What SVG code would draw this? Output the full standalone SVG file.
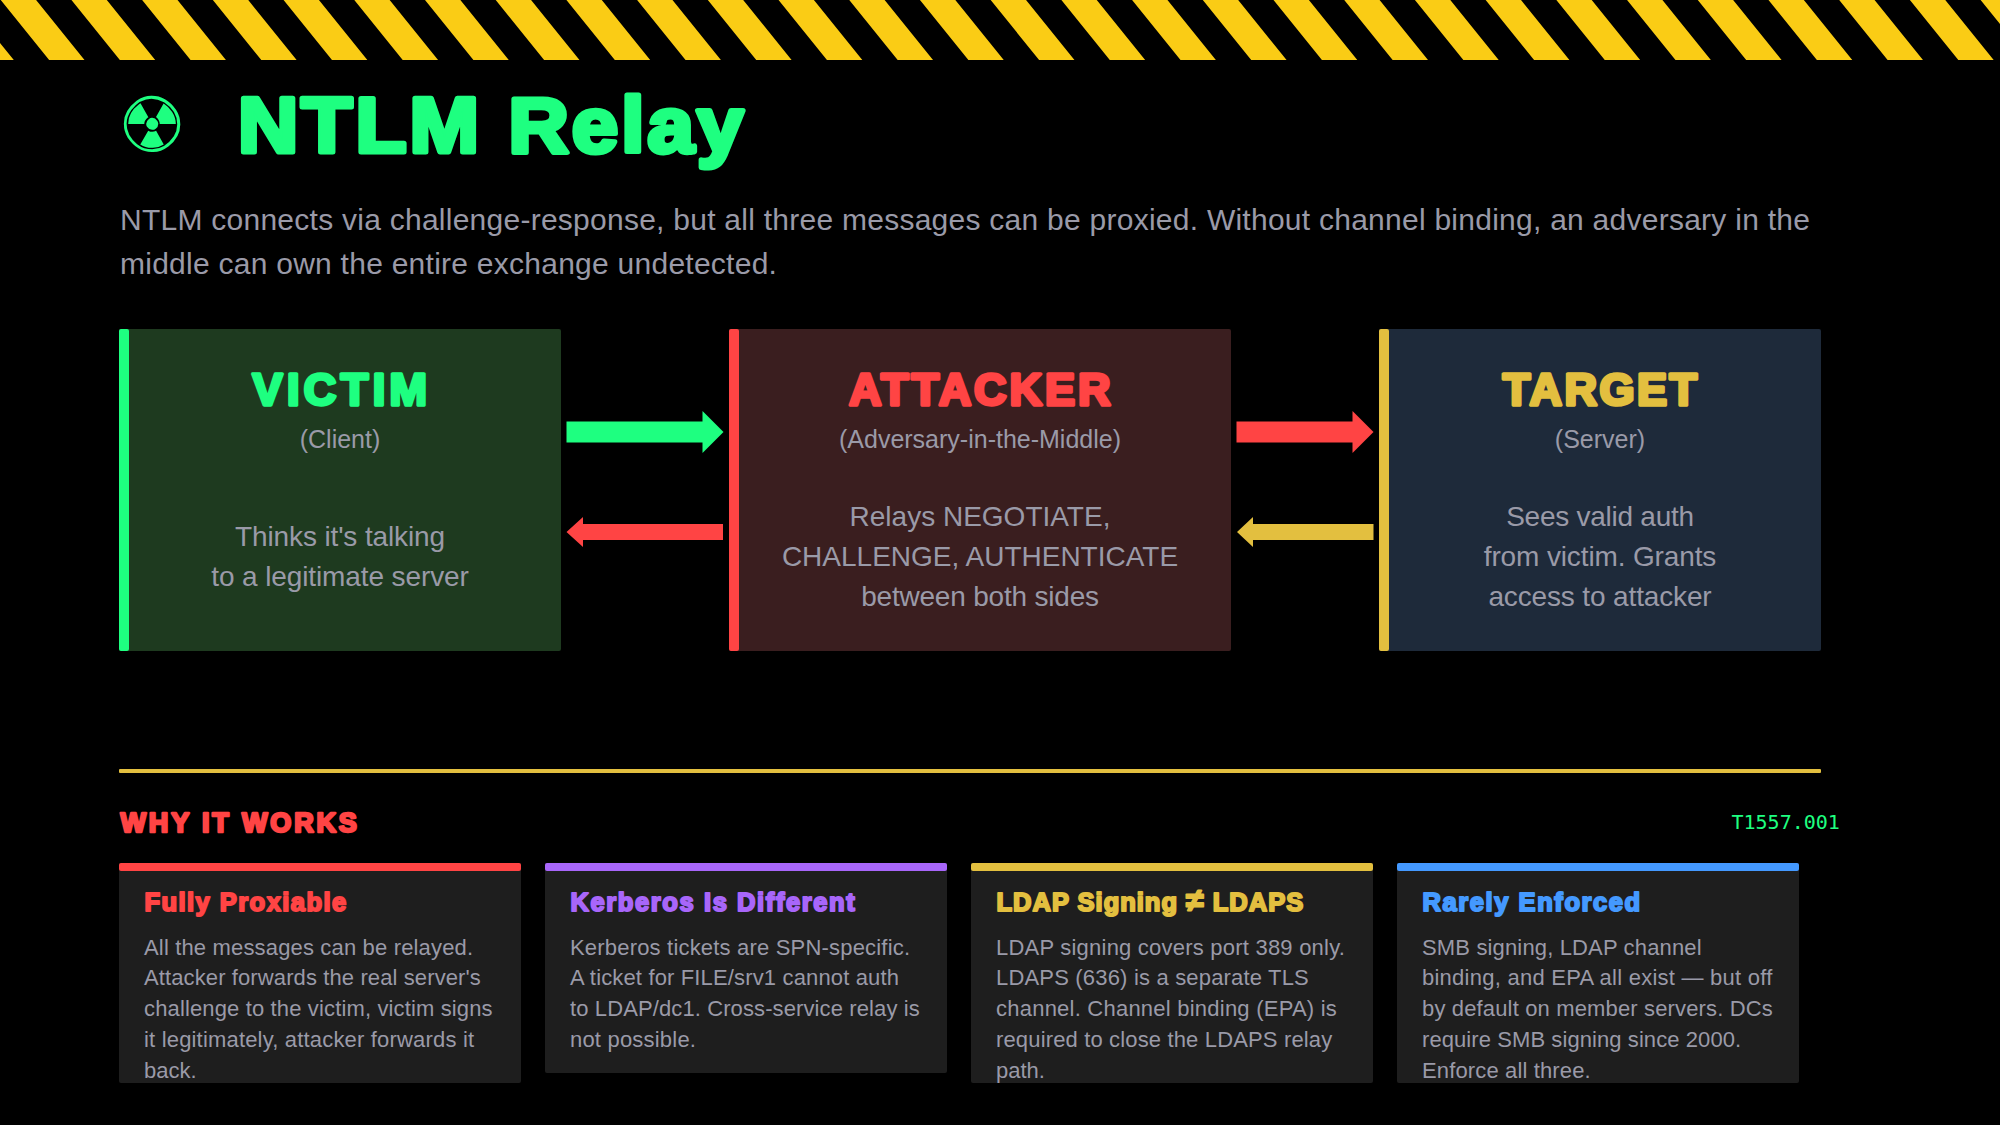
<svg xmlns="http://www.w3.org/2000/svg" width="2000" height="1125" viewBox="0 0 2000 1125">
<style>
text{font-family:"Liberation Sans",Arial,sans-serif}
.h{font-weight:700;stroke-linejoin:round;paint-order:stroke}
.title{font-size:78px;letter-spacing:2.9px;stroke-width:5px;fill:#1eff80;stroke:#1eff80}
.sub{font-size:30px;fill:#9a9aa8;letter-spacing:.255px}
.nm{font-size:45px;text-anchor:middle;stroke-width:3.5px}
.role{font-size:25px;fill:#9a9aa8;text-anchor:middle}
.body{font-size:28px;fill:#9a9aa8;text-anchor:middle}
.sec{font-size:27px;letter-spacing:2.85px;stroke-width:2.5px}
.ct{font-size:25.5px;stroke-width:2px}
.cb{font-size:22px;fill:#9a9aa8}
.g{fill:#1eff80;stroke:#1eff80}.r{fill:#ff4444;stroke:#ff4444}.y{fill:#e3bf3f;stroke:#e3bf3f}.p{fill:#a866fa;stroke:#a866fa}.b{fill:#4499ff;stroke:#4499ff}
.card{fill:#1e1e1e}
</style>
<defs>
<clipPath id="c1"><rect x="119" y="863" width="402" height="220"/></clipPath>
<clipPath id="c3"><rect x="971" y="863" width="402" height="220"/></clipPath>
<clipPath id="c4"><rect x="1397" y="863" width="402" height="220"/></clipPath>
</defs>
<rect width="2000" height="1125" fill="#000"/>
<line x1="-211.39" y1="30" x2="2300" y2="30" stroke="#facc15" stroke-width="60" stroke-dasharray="35.355 35.355" transform="skewX(38.9)"/>
<g id="header">
<text x="117.5" y="152" style="font-family:'DejaVu Sans',sans-serif;font-size:77px" fill="#1eff80">☢</text>
<text class="h title" transform="translate(238 152) scale(1.07 1)">NTLM Relay</text>
<text class="sub" x="120" y="230">NTLM connects via challenge-response, but all three messages can be proxied. Without channel binding, an adversary in the</text>
<text class="sub" x="120" y="274">middle can own the entire exchange undetected.</text>
</g>
<g id="victim">
<rect x="119" y="329" width="442" height="322" rx="2" fill="#1e3a1f"/>
<rect x="119" y="329" width="10" height="322" rx="2" fill="#1eff80"/>
<text class="h nm g" x="342" y="405" letter-spacing="4.4">VICTIM</text>
<text class="role" x="340" y="448">(Client)</text>
<text class="body" x="340" y="546" letter-spacing="-.13">Thinks it's talking</text>
<text class="body" x="340" y="586" letter-spacing="-.11">to a legitimate server</text>
</g>
<g id="attacker">
<rect x="729" y="329" width="502" height="322" rx="2" fill="#3a1e1f"/>
<rect x="729" y="329" width="10" height="322" rx="2" fill="#ff4444"/>
<text class="h nm r" x="981.2" y="405" letter-spacing="2.95">ATTACKER</text>
<text class="role" x="980" y="448">(Adversary-in-the-Middle)</text>
<text class="body" x="980" y="526">Relays NEGOTIATE,</text>
<text class="body" x="980" y="566">CHALLENGE, AUTHENTICATE</text>
<text class="body" x="980" y="606" letter-spacing="-.2">between both sides</text>
</g>
<g id="target">
<rect x="1379" y="329" width="442" height="322" rx="2" fill="#1e2a3a"/>
<rect x="1379" y="329" width="10" height="322" rx="2" fill="#e3bf3f"/>
<text class="h nm y" x="1601.2" y="405" letter-spacing="2.5">TARGET</text>
<text class="role" x="1600" y="448">(Server)</text>
<text class="body" x="1600" y="526" letter-spacing="-.25">Sees valid auth</text>
<text class="body" x="1600" y="566" letter-spacing="-.13">from victim. Grants</text>
<text class="body" x="1600" y="606" letter-spacing="-.14">access to attacker</text>
</g>
<g id="connectors">
<polygon points="566.5,421.5 702.5,421.5 702.5,411 723.5,432 702.5,453 702.5,442.5 566.5,442.5" fill="#1eff80"/>
<polygon points="723,524 583,524 583,517 566.5,532 583,547 583,540 723,540" fill="#ff4444"/>
<polygon points="1236.5,421.5 1352.5,421.5 1352.5,411 1373.5,432 1352.5,453 1352.5,442.5 1236.5,442.5" fill="#ff4444"/>
<polygon points="1373.5,524 1253,524 1253,517 1237,532 1253,547 1253,540 1373.5,540" fill="#e3bf3f"/>
</g>
<rect id="rule" x="119" y="769" width="1702" height="4" rx="1" fill="#e3bf3f"/>
<g id="section">
<text class="h sec r" x="120.5" y="831.5">WHY IT WORKS</text>
<text x="1731.5" y="829" style="font-family:'DejaVu Sans Mono',monospace;font-size:20px" fill="#1eff80">T1557.001</text>
</g>
<g id="card1">
<rect class="card" x="119" y="863" width="402" height="220" rx="2"/>
<rect x="119" y="863" width="402" height="8" rx="2" fill="#ff4444"/>
<text class="h ct r" x="144.5" y="911" letter-spacing="1.45">Fully Proxiable</text>
<g clip-path="url(#c1)">
<text class="cb" x="144" y="955" letter-spacing=".16">All the messages can be relayed.</text>
<text class="cb" x="144" y="985" letter-spacing=".11">Attacker forwards the real server's</text>
<text class="cb" x="144" y="1016" letter-spacing=".14">challenge to the victim, victim signs</text>
<text class="cb" x="144" y="1047" letter-spacing=".18">it legitimately, attacker forwards it</text>
<text class="cb" x="144" y="1078">back.</text>
</g>
</g>
<g id="card2">
<rect class="card" x="545" y="863" width="402" height="210" rx="2"/>
<rect x="545" y="863" width="402" height="8" rx="2" fill="#a866fa"/>
<text class="h ct p" x="570.5" y="911" letter-spacing="1.6">Kerberos Is Different</text>
<text class="cb" x="570" y="955" letter-spacing=".19">Kerberos tickets are SPN-specific.</text>
<text class="cb" x="570" y="985" letter-spacing=".15">A ticket for FILE/srv1 cannot auth</text>
<text class="cb" x="570" y="1016" letter-spacing=".11">to LDAP/dc1. Cross-service relay is</text>
<text class="cb" x="570" y="1047" letter-spacing=".2">not possible.</text>
</g>
<g id="card3">
<rect class="card" x="971" y="863" width="402" height="220" rx="2"/>
<rect x="971" y="863" width="402" height="8" rx="2" fill="#e3bf3f"/>
<text class="h ct y" x="996.5" y="911" letter-spacing="1">LDAP Signing <tspan style="font-size:32px">≠</tspan> LDAPS</text>
<g clip-path="url(#c3)">
<text class="cb" x="996" y="955" letter-spacing=".22">LDAP signing covers port 389 only.</text>
<text class="cb" x="996" y="985" letter-spacing=".18">LDAPS (636) is a separate TLS</text>
<text class="cb" x="996" y="1016" letter-spacing=".23">channel. Channel binding (EPA) is</text>
<text class="cb" x="996" y="1047" letter-spacing=".15">required to close the LDAPS relay</text>
<text class="cb" x="996" y="1078">path.</text>
</g>
</g>
<g id="card4">
<rect class="card" x="1397" y="863" width="402" height="220" rx="2"/>
<rect x="1397" y="863" width="402" height="8" rx="2" fill="#4499ff"/>
<text class="h ct b" x="1422.5" y="911" letter-spacing="1.58">Rarely Enforced</text>
<g clip-path="url(#c4)">
<text class="cb" x="1422" y="955" letter-spacing=".15">SMB signing, LDAP channel</text>
<text class="cb" x="1422" y="985" letter-spacing=".25">binding, and EPA all exist — but off</text>
<text class="cb" x="1422" y="1016" letter-spacing=".15">by default on member servers. DCs</text>
<text class="cb" x="1422" y="1047" letter-spacing=".08">require SMB signing since 2000.</text>
<text class="cb" x="1422" y="1078" letter-spacing=".14">Enforce all three.</text>
</g>
</g>
</svg>
